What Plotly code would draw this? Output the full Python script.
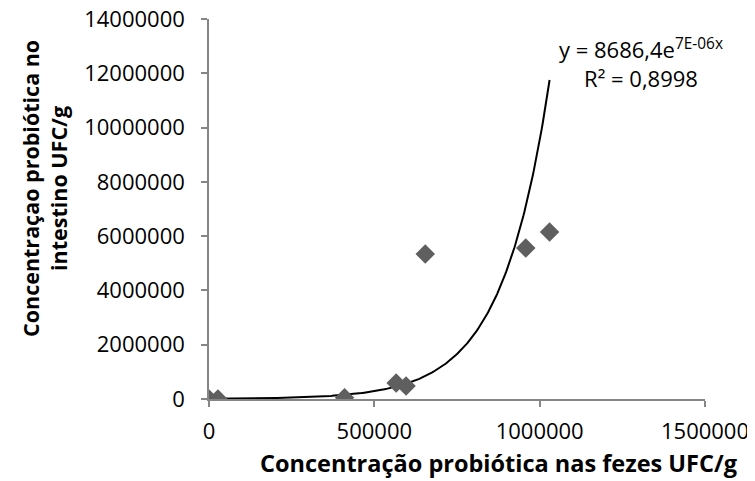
import numpy as np
import plotly.graph_objects as go

fezes = [0, 27000, 410000, 566000, 596000, 654000, 958000, 1030000]
intestino = [0, 0, 50000, 590000, 480000, 5340000, 5560000, 6150000]

x_ticks = [0, 500000, 1000000, 1500000]
y_ticks = [0, 2000000, 4000000, 6000000, 8000000, 10000000, 12000000, 14000000]

coef_a = 8686.4
coef_b = 7e-06
r2_text = "0,8998"

xt = np.linspace(min(fezes), max(fezes), 300)
yt = coef_a * np.exp(coef_b * xt)

FONT = "Open Sans"
AX = "#868686"
# page body has an 8px margin; compensate so the plot area sits at 209..705 x 19..399
OFF = 8
PW, PH = 755 - OFF, 481 - OFF
L, R, T, B = 209 - OFF, 50, 19 - OFF, 82
pw = 496
ph = 380

fig = go.Figure()
fig.add_trace(go.Scatter(x=xt, y=yt, mode="lines", line=dict(color="black", width=2),
                         hoverinfo="skip", showlegend=False))
fig.add_trace(go.Scatter(x=fezes, y=intestino, mode="markers",
                         marker=dict(symbol="diamond", size=15, color="#5f5f5f"),
                         showlegend=False))

fig.update_layout(
    width=PW, height=PH,
    margin=dict(l=L, r=R, t=T, b=B, autoexpand=False),
    plot_bgcolor="white", paper_bgcolor="white",
    font=dict(family=FONT, size=22, color="black"),
    xaxis=dict(range=[0, 1500000], tickvals=x_ticks, ticktext=[str(v) for v in x_ticks],
               showgrid=False, zeroline=False, showline=True, linecolor=AX, linewidth=1.5,
               ticks="outside", ticklen=6, tickcolor=AX, tickwidth=1.5,
               tickfont=dict(size=22), ticklabelstandoff=6, automargin=False,
               ticklabeloverflow="allow"),
    yaxis=dict(range=[0, 14000000], tickvals=y_ticks, ticktext=[str(v) for v in y_ticks],
               showgrid=False, zeroline=False, showline=True, linecolor=AX, linewidth=1.5,
               ticks="outside", ticklen=6, tickcolor=AX, tickwidth=1.5,
               tickfont=dict(size=22), ticklabelstandoff=12, automargin=False,
               ticklabeloverflow="allow"),
    annotations=[
        dict(text="<b>Concentração probiótica nas fezes UFC/g</b>",
             xref="paper", yref="paper", x=(498 - 209) / pw, y=(399 - 463) / ph,
             xanchor="center", yanchor="middle", showarrow=False,
             font=dict(size=23.5)),
        dict(text="<b>Concentraçao probiótica no<br>intestino UFC/g</b>",
             xref="paper", yref="paper", x=(45 - 209) / pw, y=(399 - 189) / ph,
             xanchor="center", yanchor="middle", textangle=-90, showarrow=False,
             font=dict(size=21.5)),
        dict(text="y = 8686,4e<sup>7E-06x</sup><br>R² = " + r2_text,
             xref="paper", yref="paper", x=(641 - 209) / pw, y=(399 - 63) / ph,
             xanchor="center", yanchor="middle", align="center", showarrow=False,
             font=dict(size=22)),
    ],
)

fig.write_html("out.html")
